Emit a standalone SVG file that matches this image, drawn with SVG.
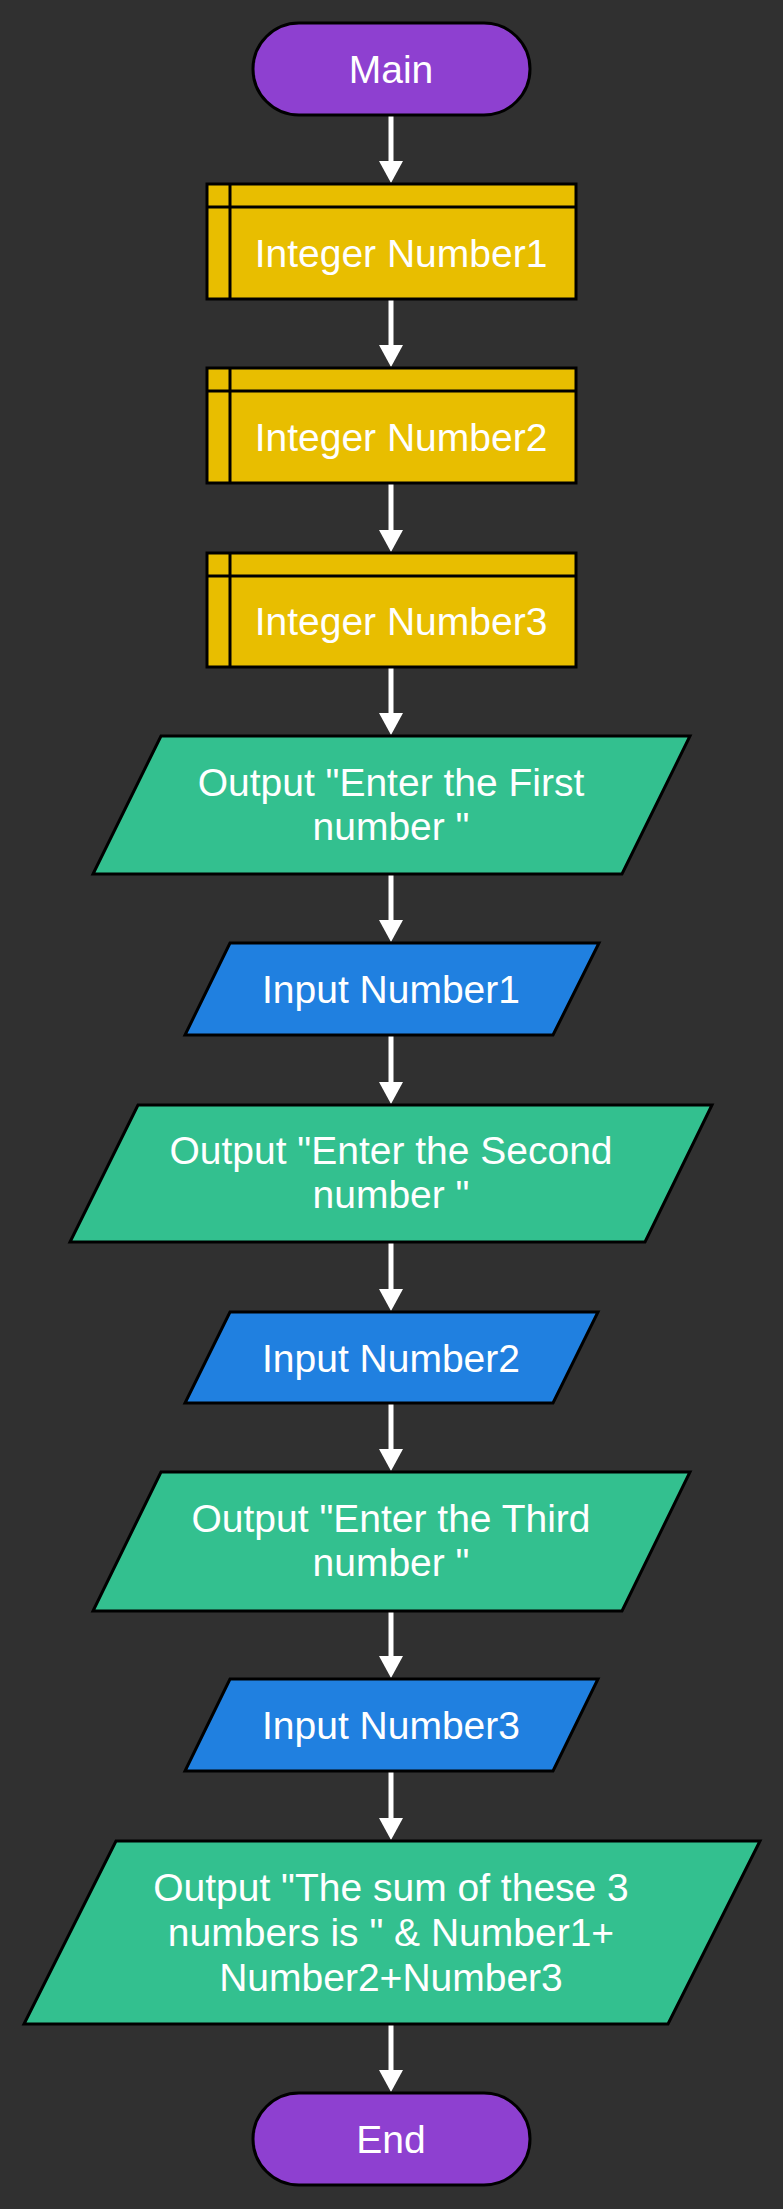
<svg xmlns="http://www.w3.org/2000/svg" width="783" height="2209" viewBox="0 0 783 2209">
  <style>
    .shape { stroke: #000000; stroke-width: 3; stroke-linejoin: miter; }
    .term { fill: #8E40D0; }
    .decl { fill: #E8BE00; }
    .out { fill: #33C08F; }
    .in { fill: #2080E0; }
    .label { font-family: "Liberation Sans", Arial, sans-serif; font-size: 39px; fill: #FFFFFF; text-anchor: middle; }
    .link { stroke: #FFFFFF; stroke-width: 5; fill: none; }
    .head { fill: #FFFFFF; stroke: none; }
  </style>
  <defs>
    <!-- arrowhead, tip at origin, pointing down -->
    <path id="head" class="head" d="M-12,-22 L12,-22 L0,0 Z"/>
  </defs>

  <rect x="0" y="0" width="783" height="2209" fill="#303030"/>

  <!-- connectors -->
  <g id="connectors">
    <line class="link" x1="391" y1="116" x2="391" y2="165"/>
    <use href="#head" x="391" y="183"/>
    <line class="link" x1="391" y1="300" x2="391" y2="350"/>
    <use href="#head" x="391" y="367"/>
    <line class="link" x1="391" y1="484" x2="391" y2="534"/>
    <use href="#head" x="391" y="552"/>
    <line class="link" x1="391" y1="668" x2="391" y2="717"/>
    <use href="#head" x="391" y="735"/>
    <line class="link" x1="391" y1="875" x2="391" y2="924"/>
    <use href="#head" x="391" y="942"/>
    <line class="link" x1="391" y1="1036" x2="391" y2="1086"/>
    <use href="#head" x="391" y="1104"/>
    <line class="link" x1="391" y1="1243" x2="391" y2="1293"/>
    <use href="#head" x="391" y="1311"/>
    <line class="link" x1="391" y1="1404" x2="391" y2="1453"/>
    <use href="#head" x="391" y="1471"/>
    <line class="link" x1="391" y1="1612" x2="391" y2="1660"/>
    <use href="#head" x="391" y="1678"/>
    <line class="link" x1="391" y1="1772" x2="391" y2="1822"/>
    <use href="#head" x="391" y="1840"/>
    <line class="link" x1="391" y1="2025" x2="391" y2="2074"/>
    <use href="#head" x="391" y="2092"/>
  </g>

  <!-- start -->
  <g id="node-main">
    <path class="shape term" d="M299,23 H484 A46,46 0 0 1 484,115 H299 A46,46 0 0 1 299,23 Z"/>
    <text class="label" x="391" y="83">Main</text>
  </g>

  <!-- declarations -->
  <g id="node-decl1">
    <rect class="shape decl" x="207" y="184" width="369" height="115"/>
    <line class="shape" x1="207" y1="207" x2="576" y2="207"/>
    <line class="shape" x1="230" y1="184" x2="230" y2="299"/>
    <text class="label" x="401" y="267">Integer Number1</text>
  </g>
  <g id="node-decl2">
    <rect class="shape decl" x="207" y="368" width="369" height="115"/>
    <line class="shape" x1="207" y1="391" x2="576" y2="391"/>
    <line class="shape" x1="230" y1="368" x2="230" y2="483"/>
    <text class="label" x="401" y="451">Integer Number2</text>
  </g>
  <g id="node-decl3">
    <rect class="shape decl" x="207" y="553" width="369" height="114"/>
    <line class="shape" x1="207" y1="576" x2="576" y2="576"/>
    <line class="shape" x1="230" y1="553" x2="230" y2="667"/>
    <text class="label" x="401" y="635">Integer Number3</text>
  </g>

  <!-- first prompt and input -->
  <g id="node-out1">
    <polygon class="shape out" points="161,736 690,736 622,874 93,874"/>
    <text class="label" x="391" y="796">Output "Enter the First</text>
    <text class="label" x="391" y="840">number "</text>
  </g>
  <g id="node-in1">
    <polygon class="shape in" points="230,943 599,943 553,1035 185,1035"/>
    <text class="label" x="391" y="1003">Input Number1</text>
  </g>

  <!-- second prompt and input -->
  <g id="node-out2">
    <polygon class="shape out" points="138,1105 712,1105 645,1242 70,1242"/>
    <text class="label" x="391" y="1164">Output "Enter the Second</text>
    <text class="label" x="391" y="1208">number "</text>
  </g>
  <g id="node-in2">
    <polygon class="shape in" points="230,1312 598,1312 553,1403 185,1403"/>
    <text class="label" x="391" y="1372">Input Number2</text>
  </g>

  <!-- third prompt and input -->
  <g id="node-out3">
    <polygon class="shape out" points="161,1472 690,1472 622,1611 93,1611"/>
    <text class="label" x="391" y="1532">Output "Enter the Third</text>
    <text class="label" x="391" y="1576">number "</text>
  </g>
  <g id="node-in3">
    <polygon class="shape in" points="230,1679 598,1679 553,1771 185,1771"/>
    <text class="label" x="391" y="1739">Input Number3</text>
  </g>

  <!-- result -->
  <g id="node-sum">
    <polygon class="shape out" points="116,1841 760,1841 668,2024 24,2024"/>
    <text class="label" x="391" y="1901">Output "The sum of these 3</text>
    <text class="label" x="391" y="1946">numbers is " &amp; Number1+</text>
    <text class="label" x="391" y="1991">Number2+Number3</text>
  </g>

  <!-- end -->
  <g id="node-end">
    <path class="shape term" d="M299,2093 H484 A46,46 0 0 1 484,2185 H299 A46,46 0 0 1 299,2093 Z"/>
    <text class="label" x="391" y="2153">End</text>
  </g>
</svg>
